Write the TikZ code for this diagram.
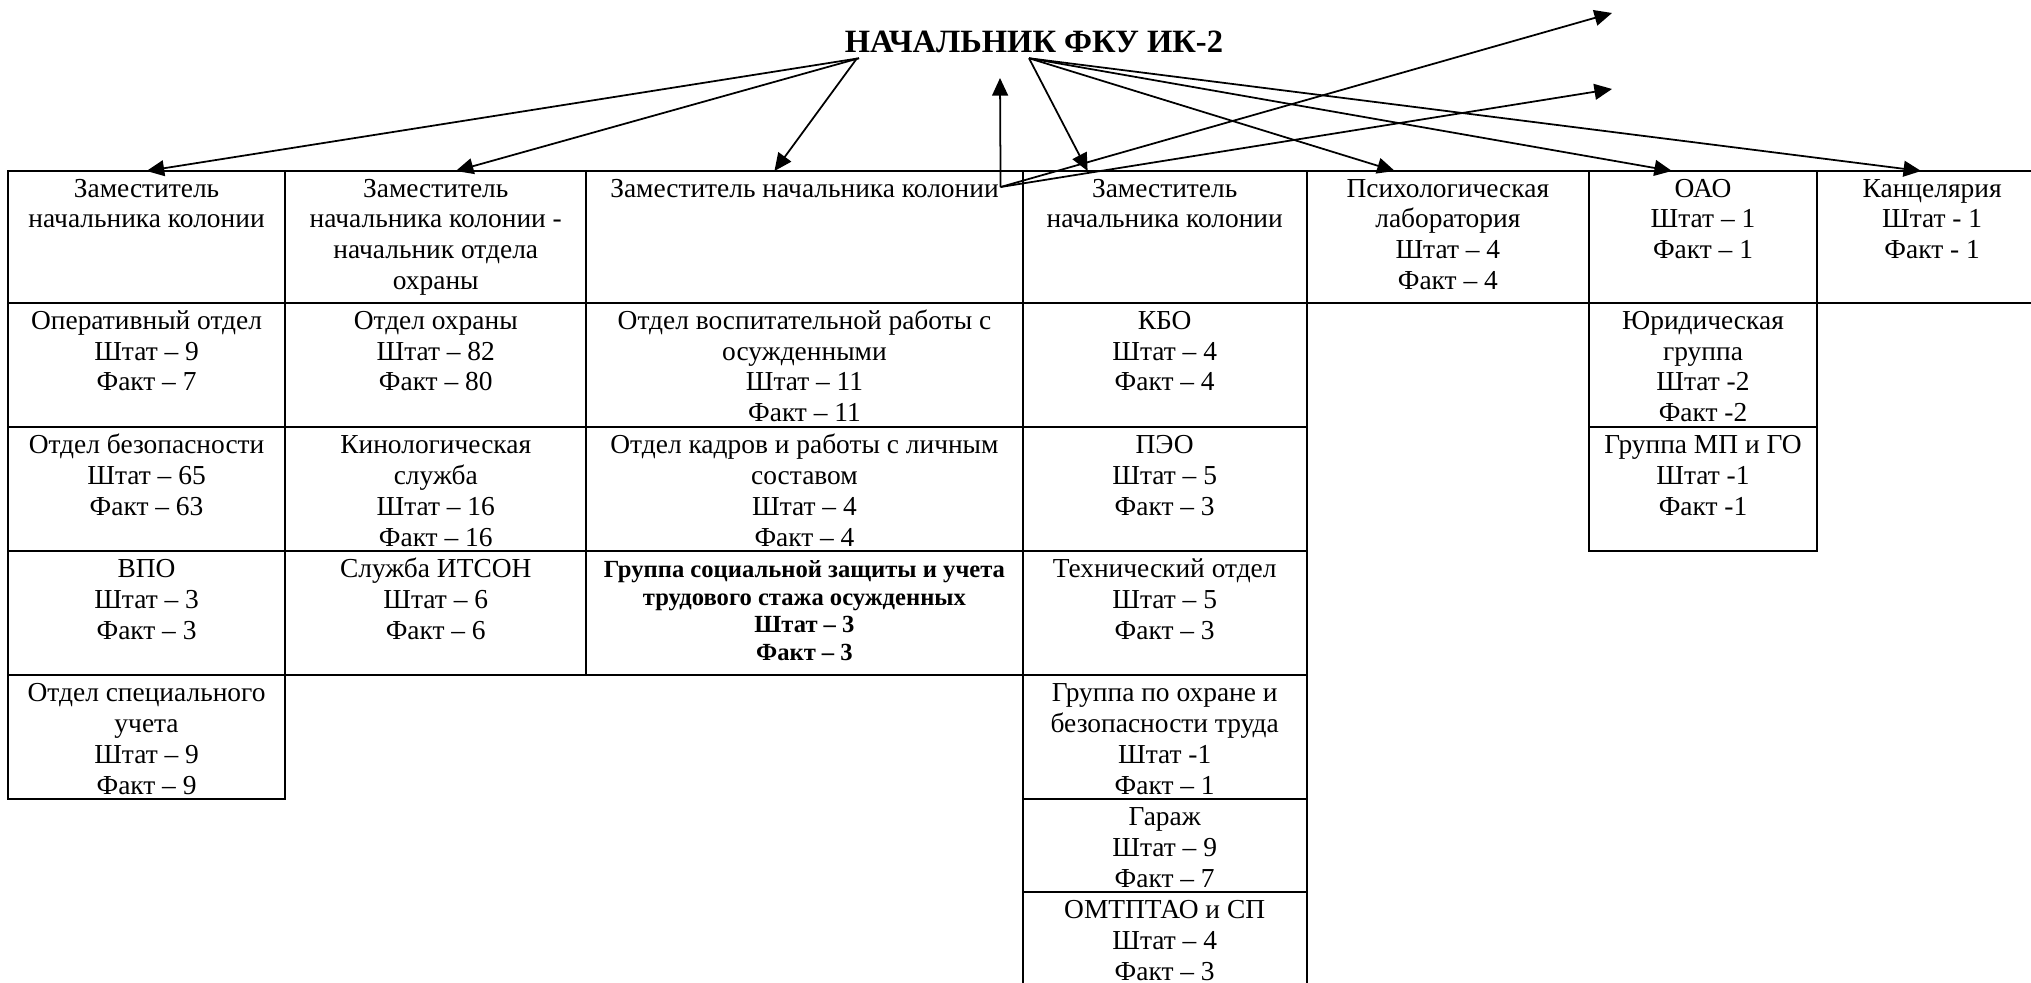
\documentclass[tikz,border=0pt]{standalone}
\usepackage{fontspec}
\setmainfont{Liberation Serif}
\usepackage{tikz}
\usetikzlibrary{shapes, positioning, arrows.meta}

\newcommand{\unitcell}[3]{\parbox[t][\dimexpr#1-0.6pt\relax][t]{#2}{\centering\rule{0pt}{7.1pt}#3}}

\begin{document}
\begin{tikzpicture}[x=0.01cm, y=-0.01cm,
    every node/.style={font=\fontsize{7.8}{8.8}\selectfont},
    relation/.style={rectangle split,
      rectangle split parts=#1,
      draw,
      line width=0.6pt,
      inner sep=0pt,
      outer sep=0pt,
      anchor=north west},
    link/.style={-{Triangle[length=5pt,width=4.5pt]},
      line width=0.5pt}]

  \useasboundingbox (0,0) rectangle (2031,982);

  % HEAD

  \node [font=\fontsize{9.25}{10}\selectfont\bfseries,
    inner sep=1.2pt,
    anchor=base] (chief) at (1034,53) {НАЧАЛЬНИК ФКУ ИК-2};

  % DEPARTMENTS

  \node [relation=5] (operdep) at (8,171) {%
    \unitcell{1.32cm}{2.77cm}{Заместитель\\начальника колонии}%
    \nodepart{two}\unitcell{1.24cm}{2.77cm}{Оперативный отдел\\Штат – 9\\Факт – 7}%
    \nodepart{three}\unitcell{1.24cm}{2.77cm}{Отдел безопасности\\Штат – 65\\Факт – 63}%
    \nodepart{four}\unitcell{1.24cm}{2.77cm}{ВПО\\Штат – 3\\Факт – 3}%
    \nodepart{five}\unitcell{1.24cm}{2.77cm}{Отдел специального\\учета\\Штат – 9\\Факт – 9}%
  };

  \node [relation=4,
    right=0pt of operdep.north east,
    anchor=north west] (guarddep) {%
    \unitcell{1.32cm}{3.01cm}{Заместитель\\начальника колонии -\\начальник отдела\\охраны}%
    \nodepart{two}\unitcell{1.24cm}{3.01cm}{Отдел охраны\\Штат – 82\\Факт – 80}%
    \nodepart{three}\unitcell{1.24cm}{3.01cm}{Кинологическая\\служба\\Штат – 16\\Факт – 16}%
    \nodepart{four}\unitcell{1.24cm}{3.01cm}{Служба ИТСОН\\Штат – 6\\Факт – 6}%
  };

  \node [relation=4,
    right=0pt of guarddep.north east,
    anchor=north west] (educdep) {%
    \unitcell{1.32cm}{4.36cm}{Заместитель начальника колонии}%
    \nodepart{two}\unitcell{1.24cm}{4.36cm}{Отдел воспитательной работы с\\осужденными\\Штат – 11\\Факт – 11}%
    \nodepart{three}\unitcell{1.24cm}{4.36cm}{Отдел кадров и работы с личным\\составом\\Штат – 4\\Факт – 4}%
    \nodepart{four}\unitcell{1.24cm}{4.36cm}{\fontsize{7}{7.9}\selectfont\bfseries
      Группа социальной защиты и учета\\трудового стажа осужденных\\Штат – 3\\Факт – 3}%
  };

  \node [relation=7,
    right=0pt of educdep.north east,
    anchor=north west] (techdep) {%
    \unitcell{1.32cm}{2.84cm}{Заместитель\\начальника колонии}%
    \nodepart{two}\unitcell{1.24cm}{2.84cm}{КБО\\Штат – 4\\Факт – 4}%
    \nodepart{three}\unitcell{1.24cm}{2.84cm}{ПЭО\\Штат – 5\\Факт – 3}%
    \nodepart{four}\unitcell{1.24cm}{2.84cm}{Технический отдел\\Штат – 5\\Факт – 3}%
    \nodepart{five}\unitcell{1.24cm}{2.84cm}{Группа по охране и\\безопасности труда\\Штат -1\\Факт – 1}%
    \nodepart{six}\unitcell{0.93cm}{2.84cm}{Гараж\\Штат – 9\\Факт – 7}%
    \nodepart{seven}\unitcell{1.0cm}{2.84cm}{ОМТПТАО и СП\\Штат – 4\\Факт – 3}%
  };

  \node [relation=1,
    right=0pt of techdep.north east,
    anchor=north west] (psychlab) {%
    \unitcell{1.32cm}{2.82cm}{Психологическая\\лаборатория\\Штат – 4\\Факт – 4}%
  };

  \node [relation=3,
    right=0pt of psychlab.north east,
    anchor=north west] (oao) {%
    \unitcell{1.32cm}{2.28cm}{ОАО\\Штат – 1\\Факт – 1}%
    \nodepart{two}\unitcell{1.24cm}{2.28cm}{Юридическая\\группа\\Штат -2\\Факт -2}%
    \nodepart{three}\unitcell{1.24cm}{2.28cm}{Группа МП и ГО\\Штат -1\\Факт -1}%
  };

  \node [relation=1,
    right=0pt of oao.north east,
    anchor=north west] (office) {%
    \unitcell{1.32cm}{2.30cm}{Канцелярия\\Штат - 1\\Факт - 1}%
  };

  % LINKS

  \draw [link] ([xshift=0.19cm]chief.south west) -- (operdep.north);
  \draw [link] ([xshift=0.19cm]chief.south west) -- ([xshift=0.2cm]guarddep.north);
  \draw [link] ([xshift=0.17cm]chief.south west) -- ([xshift=-0.3cm]educdep.north);
  \draw [link] ([xshift=-0.05cm]chief.south) -- ([xshift=-0.77cm]techdep.north);
  \draw [link] ([xshift=-0.05cm]chief.south) -- ([xshift=-0.53cm]psychlab.north);
  \draw [link] ([xshift=-0.05cm]chief.south) -- ([xshift=-0.31cm]oao.north);
  \draw [link] ([xshift=-0.05cm]chief.south) -- ([xshift=-0.11cm]office.north);

  \coordinate (junction) at ([xshift=-0.22cm, yshift=-0.16cm]educdep.north east);
  \coordinate (stub) at (1000,78);
  \coordinate (looseup) at (1612,13);
  \coordinate (loosedown) at (1612,89);

  \draw [link] (junction) -- (stub);
  \draw [link] (junction) -- (looseup);
  \draw [link] (junction) -- (loosedown);

\end{tikzpicture}
\end{document}
